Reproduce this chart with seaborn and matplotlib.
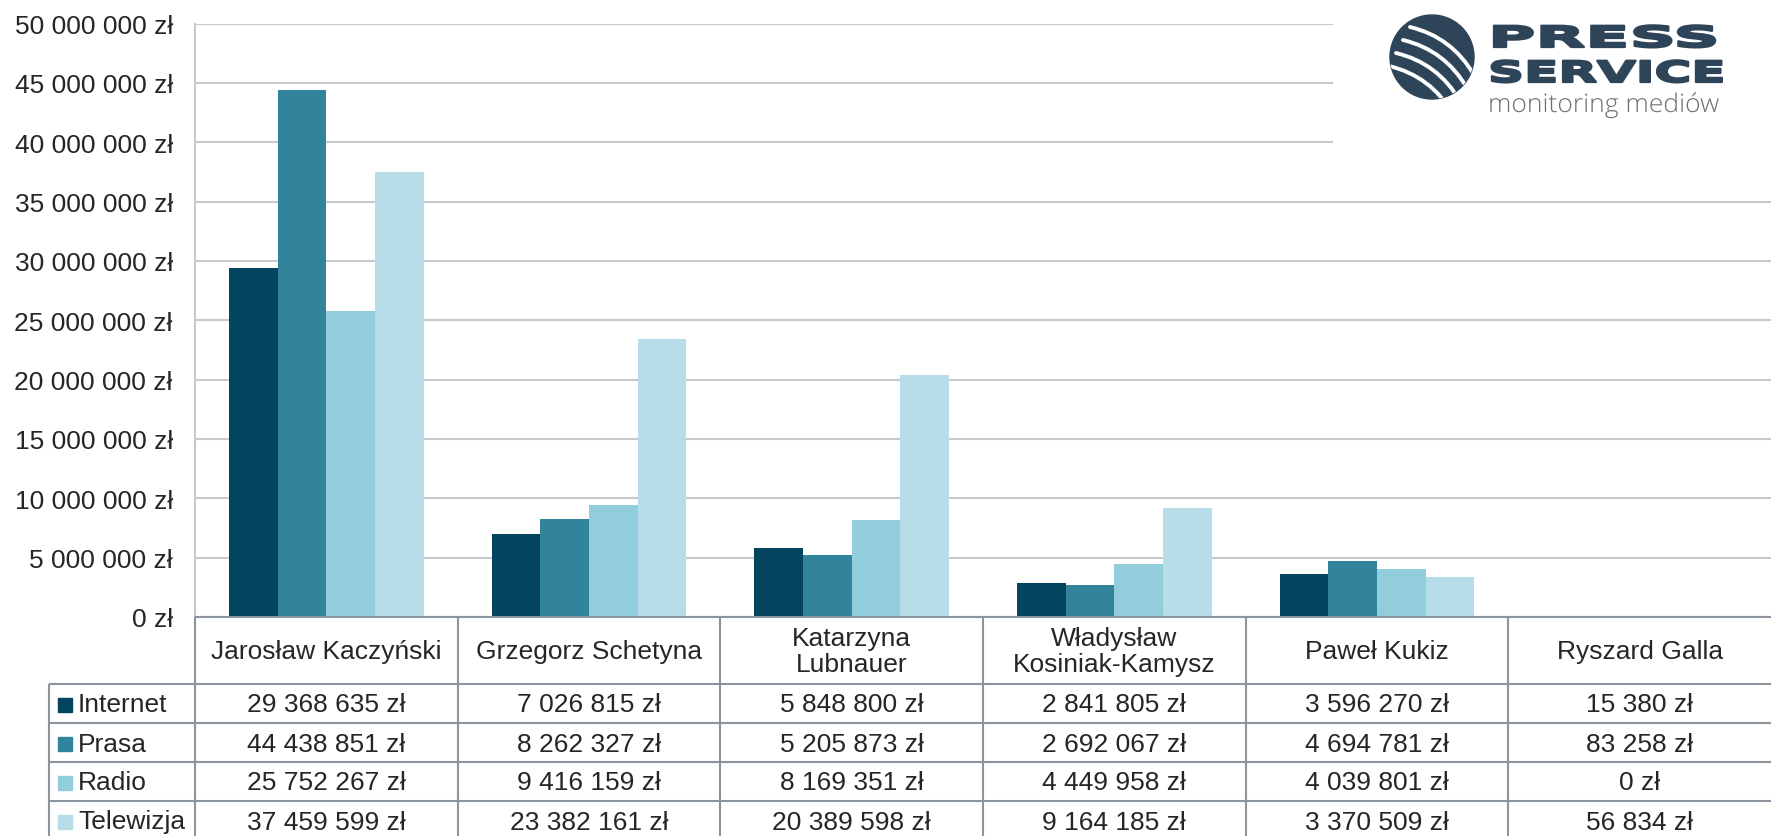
import numpy as np
import pandas as pd
import matplotlib
matplotlib.use("Agg")
import matplotlib.pyplot as plt
import matplotlib.patheffects as pe
import seaborn as sns
from matplotlib.patches import Rectangle, Circle, PathPatch
from matplotlib.path import Path
from matplotlib.transforms import Affine2D
from matplotlib.ticker import FuncFormatter

# --- data ---
candidates = ["Jarosław Kaczyński", "Grzegorz Schetyna", "Katarzyna\nLubnauer",
              "Władysław\nKosiniak-Kamysz", "Paweł Kukiz", "Ryszard Galla"]
media = ["Internet", "Prasa", "Radio", "Telewizja"]
internet = [29368635, 7026815, 5848800, 2841805, 3596270, 15380]
prasa = [44438851, 8262327, 5205873, 2692067, 4694781, 83258]
radio = [25752267, 9416159, 8169351, 4449958, 4039801, 0]
telewizja = [37459599, 23382161, 20389598, 9164185, 3370509, 56834]
y_ticks = [0, 5e6, 10e6, 15e6, 20e6, 25e6, 30e6, 35e6, 40e6, 45e6, 50e6]

colors = ["#03445e", "#31849b", "#92cddc", "#b7dee8"]
text_color = "#262626"
grid_color = "#c6cacd"
table_color = "#8c959e"
fs = 19

W, H = 1771, 837
sns.set_style("white")
plt.rcParams["font.family"] = ["Liberation Sans", "DejaVu Sans"]


def zl(v, pos=None):
    return f"{int(round(v)):,}".replace(",", " ") + " zł"


wide = pd.DataFrame({"kandydat": candidates, "Internet": internet, "Prasa": prasa,
                     "Radio": radio, "Telewizja": telewizja})
df = wide.melt(id_vars="kandydat", var_name="medium", value_name="kwota")

fig = plt.figure(figsize=(W / 100, H / 100), dpi=100)
ax = fig.add_axes([195 / W, (H - 618) / H, (W - 195) / W, (618 - 24.5) / H])
sns.barplot(data=df, x="kandydat", y="kwota", hue="medium", order=candidates,
            hue_order=media, palette=colors, saturation=1, width=0.74, gap=0,
            linewidth=0, legend=False, ax=ax)
ax.set_xlim(-0.5, 5.5)
ax.set_ylim(0, 50e6)
ax.set_yticks(y_ticks)
ax.yaxis.set_major_formatter(FuncFormatter(zl))
ax.yaxis.grid(True, color=grid_color, lw=1.5)
ax.set_axisbelow(True)
ax.set_xticks([])
ax.set_xlabel("")
ax.set_ylabel("")
for s in ["top", "right", "bottom"]:
    ax.spines[s].set_visible(False)
ax.spines["left"].set_color(grid_color)
ax.spines["left"].set_linewidth(1.5)
ax.tick_params(axis="y", length=0, pad=16, labelsize=fs, labelcolor=text_color)

# --- data table under the chart ---
colw = (W - 195) / 6
x_left = -0.5 - (195 - 49) / colw
tax = fig.add_axes([49 / W, 0, (W - 49) / W, 219 / H])
tax.set_xlim(x_left, 5.5)
tax.set_ylim(H, 618)
tax.axis("off")

row_edges = [685, 724, 763, 802, 841]
line_kw = dict(color=table_color, lw=1.5, clip_on=False)
tax.hlines(618, -0.5, 5.5, **line_kw)
tax.hlines(row_edges[:-1], x_left, 5.5, **line_kw)
tax.vlines(np.arange(6) - 0.5, 618, H, **line_kw)
tax.vlines(x_left, row_edges[0], H, **line_kw)

for i, name in enumerate(candidates):
    tax.text(i, 652, name, ha="center", va="center", fontsize=fs,
             color=text_color, linespacing=1.08)

series = [internet, prasa, radio, telewizja]
for r, (label, vals) in enumerate(zip(media, series)):
    yc = (row_edges[r] + row_edges[r + 1]) / 2 + 1
    tax.add_patch(Rectangle((x_left + 9 / colw, yc - 7), 14 / colw, 14,
                            color=colors[r], clip_on=False))
    tax.text(x_left + 29 / colw, yc, label, ha="left", va="center",
             fontsize=fs, color=text_color)
    for i, v in enumerate(vals):
        tax.text(i, yc, zl(v), ha="center", va="center", fontsize=fs,
                 color=text_color)


# --- logo ---
class Stretch(pe.AbstractPathEffect):
    """Draws text paths stretched horizontally around x0, with an optional outline."""

    def __init__(self, sx, x0, lw=0):
        super().__init__()
        self.sx, self.x0, self.lw = sx, x0, lw

    def draw_path(self, renderer, gc, tpath, affine, rgbFace=None):
        t = affine + Affine2D().translate(-self.x0, 0).scale(self.sx, 1).translate(self.x0, 0)
        gc0 = renderer.new_gc()
        gc0.copy_properties(gc)
        if self.lw and rgbFace is not None:
            gc0.set_linewidth(self.lw)
            gc0.set_foreground(rgbFace)
        renderer.draw_path(gc0, tpath, t, rgbFace)
        gc0.restore()


logo_c = "#2e4459"
lax = fig.add_axes([1333 / W, 1 - 160 / H, (W - 1333) / W, 160 / H])
lax.set_xlim(1333, W)
lax.set_ylim(160, 0)
lax.axis("off")
lax.add_patch(Rectangle((1333, 0), W - 1333, 160, color="white"))
circ = Circle((1432, 58), 42, color=logo_c)
lax.add_patch(circ)
for k in range(4):
    dx, dy = -7 * k, 13 * k
    p = Path([(1410 + dx, 28 + dy), (1452 + dx, 38 + dy), (1474 + dx, 76 + dy)],
             [Path.MOVETO, Path.CURVE3, Path.CURVE3])
    st = PathPatch(p, fill=False, edgecolor="white", lw=2.8, capstyle="round")
    lax.add_patch(st)
    st.set_clip_path(circ)

lax.text(1488, 48, "PRESS", fontsize=21, fontweight="bold", family="DejaVu Sans",
         color=logo_c, va="baseline", ha="left",
         path_effects=[Stretch(2.22, 1488, lw=1.6)])
lax.text(1488, 83, "SERVICE", fontsize=21, fontweight="bold", family="DejaVu Sans",
         color=logo_c, va="baseline", ha="left",
         path_effects=[Stretch(1.72, 1488, lw=1.6)])
lax.text(1488, 113, "monitoring mediów", fontsize=18.5, fontweight="light",
         family="Open Sans", color="#6d6e70", va="baseline", ha="left",
         path_effects=[Stretch(1.03, 1488)])

fig.savefig("out.png", dpi=100)
